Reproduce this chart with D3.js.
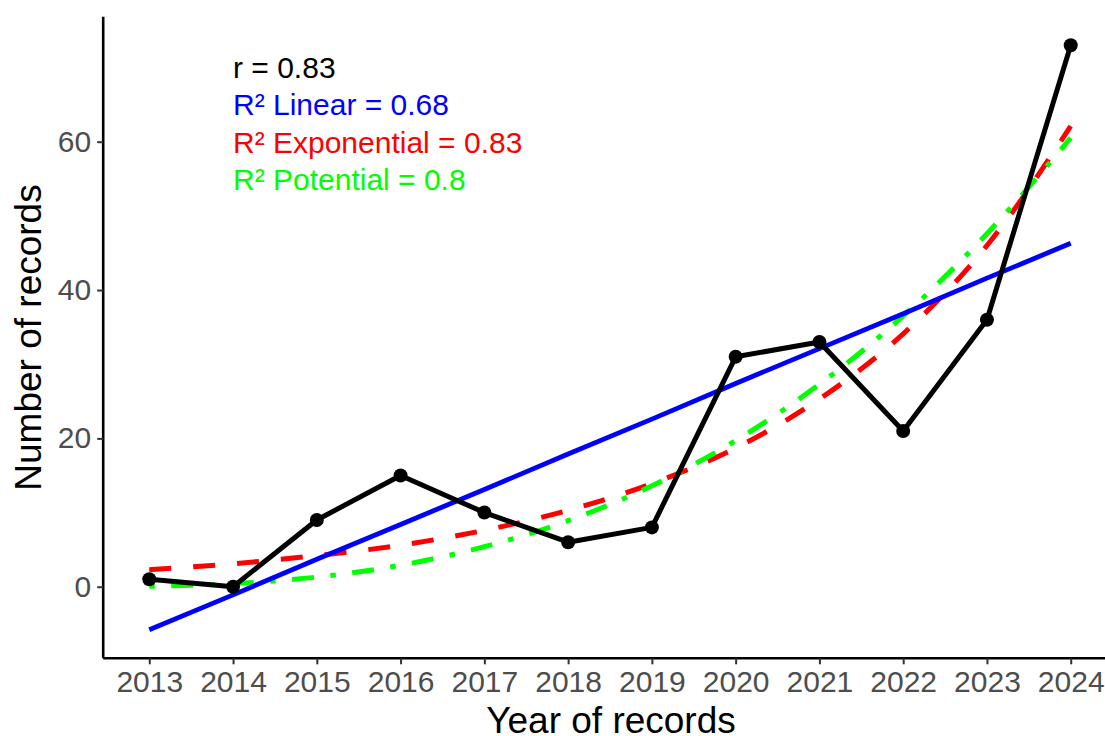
<!DOCTYPE html>
<html><head><meta charset="utf-8">
<script src="https://cdn.jsdelivr.net/npm/d3@7"></script>
<style>html,body{margin:0;padding:0;background:#fff;overflow:hidden}</style>
</head><body>
<svg id="c" width="1105" height="736"></svg>
<script>
const years = [2013,2014,2015,2016,2017,2018,2019,2020,2021,2022,2023,2024];
const records = [1,0,9,15,10,6,8,31,33,21,36,73];
// trend lines at each year
const linearFit = [-5.8,-1.1,3.7,8.4,13.1,17.9,22.6,27.4,32.1,36.8,41.6,46.3];
const expFit = [2.3,3.1,4.2,5.6,7.6,10.3,13.9,18.7,25.3,34.1,46.0,62.1];
const powFit = [0.06,0.42,1.3,2.9,5.4,8.9,13.6,19.7,27.3,36.5,47.6,60.5];
const yTicks = [0,20,40,60];
const labels = [
  {text:"r = 0.83", color:"#000000"},
  {text:"R² Linear = 0.68", color:"#0000FF"},
  {text:"R² Exponential = 0.83", color:"#FF0000"},
  {text:"R² Potential = 0.8", color:"#00FF00"}
];

const svg = d3.select("#c");
const font = "'Liberation Sans', Arial, Helvetica, sans-serif";
const x = d3.scaleLinear().domain([2012.45, 2024.55]).range([103.2, 1116.8]);
const y = d3.scaleLinear().domain([-9.65, 76.85]).range([658.3, 16.7]);

// axes
const xAxis = svg.append("g").attr("transform","translate(0,658.3)")
  .call(d3.axisBottom(x).tickValues(years).tickFormat(d3.format("d")).tickSize(6).tickPadding(6));
const yAxis = svg.append("g").attr("transform","translate(103.2,0)")
  .call(d3.axisLeft(y).tickValues(yTicks).tickSize(6).tickPadding(6));
[xAxis,yAxis].forEach(g=>{
  g.select(".domain").attr("stroke","#000").attr("stroke-width",2.6);
  g.selectAll(".tick line").attr("stroke","#333").attr("stroke-width",2);
  g.selectAll(".tick text").attr("fill","#4D4D4D").style("font-family",font).style("font-size","30px");
});
xAxis.select(".domain").attr("d","M103.2,0H1116.8");
yAxis.select(".domain").attr("d","M0,16.7V658.3");
xAxis.selectAll(".tick text").attr("dy","0.71em");

// axis titles
svg.append("text").attr("x",611).attr("y",733).attr("text-anchor","middle")
  .style("font-family",font).style("font-size","37px").attr("fill","#000").text("Year of records");
svg.append("text").attr("transform","translate(41,337.5) rotate(-90)").attr("text-anchor","middle")
  .style("font-family",font).style("font-size","37px").attr("fill","#000").text("Number of records");

const plot = svg.append("g");
const mk = (arr)=>d3.line().x((d,i)=>x(years[i])).y(d=>y(d)).curve(d3.curveMonotoneX)(arr);

plot.append("path").attr("d", mk(expFit)).attr("fill","none").attr("stroke","#FF0000")
  .attr("stroke-width",5).attr("stroke-dasharray","22 22");
plot.append("path").attr("d", mk(powFit)).attr("fill","none").attr("stroke","#00FF00")
  .attr("stroke-width",5).attr("stroke-dasharray","5.5 16.5 22 16.5");
plot.append("path").attr("d", d3.line().x((d,i)=>x(years[i])).y(d=>y(d))(linearFit))
  .attr("fill","none").attr("stroke","#0000FF").attr("stroke-width",4.8);

plot.append("path").attr("d", d3.line().x((d,i)=>x(years[i])).y(d=>y(d))(records))
  .attr("fill","none").attr("stroke","#000").attr("stroke-width",5).attr("stroke-linejoin","round");
plot.selectAll("circle.pt").data(records).enter().append("circle").attr("class","pt")
  .attr("cx",(d,i)=>x(years[i])).attr("cy",d=>y(d)).attr("r",7).attr("fill","#000");

// annotations
const lineY = [78, 115, 152.5, 189.5];
svg.selectAll("text.ann").data(labels).enter().append("text").attr("class","ann")
  .attr("x",233).attr("y",(d,i)=>lineY[i]).attr("fill",d=>d.color)
  .style("font-family",font).style("font-size","30px").text(d=>d.text);
</script>
</body></html>
